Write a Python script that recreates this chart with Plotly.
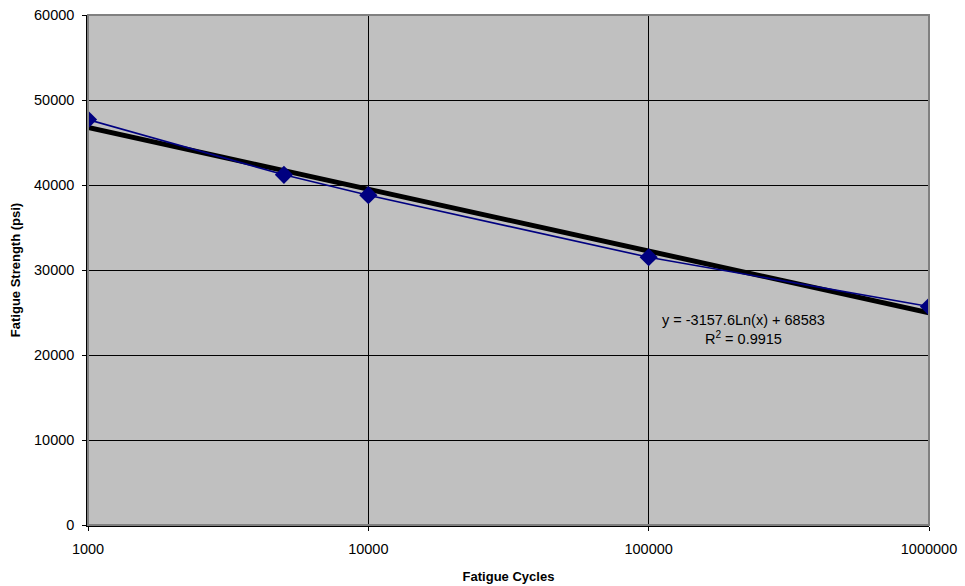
import numpy as np
import plotly.graph_objects as go

cycles = [1000, 5000, 10000, 100000, 1000000]
strength = [47700, 41200, 38800, 31500, 25700]

trend_slope = -3157.6
trend_intercept = 68583
trend_r2 = 0.9915

x_ticks = [1000, 10000, 100000, 1000000]
y_ticks = [0, 10000, 20000, 30000, 40000, 50000, 60000]

trend_x = np.array([1000, 1000000], dtype=float)
trend_y = trend_slope * np.log(trend_x) + trend_intercept

FONT = "Liberation Sans, Arial"

fig = go.Figure()
fig.add_trace(go.Scatter(
    x=trend_x, y=trend_y, mode="lines",
    line=dict(color="black", width=5), showlegend=False, hoverinfo="skip"))
fig.add_trace(go.Scatter(
    x=cycles, y=strength, mode="lines+markers",
    line=dict(color="#000080", width=1.6),
    marker=dict(symbol="diamond", size=14, color="#000080"),
    showlegend=False))

fig.add_annotation(
    x=5.34, y=23050, xref="x", yref="y",
    text=f"y = {trend_slope}Ln(x) + {trend_intercept}<br>R<sup>2</sup> = {trend_r2}",
    showarrow=False, align="center",
    font=dict(family=FONT, size=14.5, color="black"))

fig.update_layout(
    template="none",
    width=965, height=586,
    margin=dict(l=88, r=36, t=15, b=61),
    paper_bgcolor="white", plot_bgcolor="#C0C0C0",
    font=dict(family=FONT, size=14.5, color="black"),
    shapes=[dict(type="rect", xref="paper", yref="paper", x0=0, y0=0, x1=1, y1=1,
                 line=dict(color="#808080", width=2), layer="above")],
)
fig.update_xaxes(
    type="log", range=[3, 6], tickvals=x_ticks, ticktext=[str(v) for v in x_ticks],
    showgrid=True, gridcolor="black", gridwidth=1,
    showline=True, linecolor="black", linewidth=1.5,
    ticks="outside", ticklen=4, tickcolor="black", tickwidth=1,
    ticklabelstandoff=6,
    zeroline=False, automargin=False,
    title=dict(text="<b>Fatigue Cycles</b>", font=dict(family=FONT, size=13), standoff=16),
    tickfont=dict(size=14.5))
fig.update_yaxes(
    range=[0, 60000], tickvals=y_ticks, ticktext=[str(v) for v in y_ticks],
    showgrid=True, gridcolor="black", gridwidth=1,
    showline=True, linecolor="black", linewidth=1.5,
    ticks="outside", ticklen=4, tickcolor="black", tickwidth=1,
    ticklabelstandoff=5,
    zeroline=False, automargin=False,
    title=dict(text="<b>Fatigue Strength (psi)</b>", font=dict(family=FONT, size=13), standoff=10),
    tickfont=dict(size=14.5))

fig.write_html("out.html", config={"displayModeBar": False},
               post_script="document.body.style.margin='0';")
